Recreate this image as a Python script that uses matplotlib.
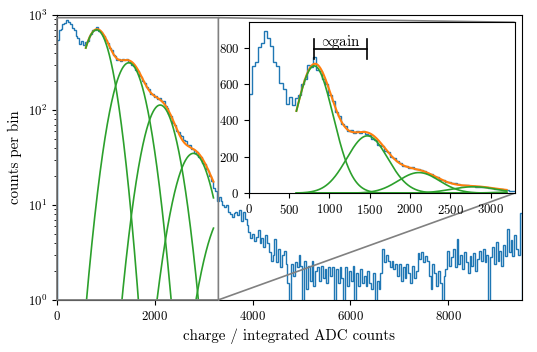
import numpy as np
import matplotlib
matplotlib.use("Agg")
import matplotlib.pyplot as plt

plt.rcParams['font.family'] = 'serif'
plt.rcParams['font.serif'] = ['cmr10']
plt.rcParams['mathtext.fontset'] = 'cm'
plt.rcParams['axes.formatter.use_mathtext'] = True
plt.rcParams['font.size'] = 9.2

# histogram, 38 ADC per bin
bin_width = 38
low_counts = [548, 702, 722, 805, 828, 893, 851, 812, 724, 701,
              604, 571, 493, 528, 487, 523, 538, 601, 628, 703,
              694, 748, 678, 672, 629, 603, 541, 508, 447, 426,
              378, 369, 339, 347, 328, 344, 333, 341, 324, 322,
              296, 294, 266, 261, 231, 224, 201, 193, 174, 166,
              149, 147, 137, 141, 131, 135, 125, 124, 111, 106,
              91, 86, 73, 70, 60, 59, 54, 53, 48, 47,
              43, 43, 39, 39, 35, 36, 32, 32, 28, 27,
              24, 23, 20, 18, 15, 14, 11]
tail_counts = [12, 11, 10, 9.5, 10, 8.5, 8, 7.5, 8.2, 8.5,
               7.8, 8.8, 6.8, 8.5, 7.2, 6.2, 5.2, 4.5, 5.0, 4.2,
               4.6, 5.4, 4.0, 4.5, 3.6, 4.8, 4.0, 3.2, 2.6, 3.0,
               4.4, 2.5, 3.4, 2.2, 3.0, 3.3, 2.4, 1.5, 0, 2.4,
               1.8, 2.5, 2.2, 3.0, 2.3, 0, 2.6, 1.3, 2.3, 1.6,
               2.6, 1.4, 2.0, 2.2, 1.6, 2.3, 1.7, 2.1, 1.5, 2.2,
               1.8, 2.2, 0, 2.1, 1.5, 2.2, 1.7, 0, 2.2, 1.4,
               2.0, 1.6, 2.3, 0, 1.9, 1.4, 2.1, 1.5, 1.8, 1.4,
               2.0, 1.5, 1.3, 1.9, 0, 1.6, 1.3, 1.9, 3.4, 2.5,
               3.0, 2.6, 2.2, 2.6, 2.1, 2.4, 1.8, 2.4, 1.6, 2.2,
               1.7, 2.4, 1.9, 1.5, 2.3, 1.7, 2.0, 3.1, 2.7, 3.2,
               2.5, 2.9, 2.6, 1.8, 1.3, 2.4, 1.9, 1.4, 2.0, 1.5,
               0, 1.8, 2.1, 3.3, 2.3, 2.8, 3.4, 2.2, 4.4, 2.4,
               3.0, 2.1, 3.2, 2.5, 1.9, 2.9, 2.3, 3.1, 2.0, 2.7,
               3.3, 2.6, 3.4, 2.5, 3.0, 0, 2.8, 3.6, 2.4, 4.1,
               2.6, 3.3, 2.3, 3.8, 2.9, 5.6, 3.2, 4.3, 2.9, 4.8,
               3.4, 3.0, 8.3]

# gaussian components of the fit
peak_pos = [811, 1470, 2110, 2790, 3460]
peak_amp = [700, 315, 113, 35, 8.3]
peak_sigma = [236, 255, 254, 279, 300]
fit_range = (590, 3200)

counts = np.array(low_counts + tail_counts)
edges = np.arange(len(counts) + 1) * bin_width

x_fit = np.linspace(fit_range[0], fit_range[1], 500)
comps = [a * np.exp(-(x_fit - c) ** 2 / (2 * s ** 2))
         for c, a, s in zip(peak_pos, peak_amp, peak_sigma)]
total = np.sum(comps, axis=0)

fig = plt.figure(figsize=(5.37, 3.52), dpi=100)
ax = fig.add_axes([0.106, 0.148, 0.8655, 0.809])

ax.hist(edges[:-1], bins=edges, weights=counts, histtype='step', color='C0', lw=1)
ax.plot(x_fit, total, color='C1', lw=1.5)
for g in comps:
    ax.plot(x_fit, g, color='C2', lw=1.2)

ax.set_yscale('log')
ax.set_xlim(0, 9500)
ax.set_ylim(1, 1000)
ax.set_xlabel('charge / integrated ADC counts', fontsize=10.8)
ax.set_ylabel('counts per bin', fontsize=10.8)

# inset, linear scale
axins = ax.inset_axes([0.413, 0.375, 0.572, 0.6])
axins.hist(edges[:-1], bins=edges, weights=counts, histtype='step', color='C0', lw=1)
axins.plot(x_fit, total, color='C1', lw=1.5)
for g in comps:
    axins.plot(x_fit, g, color='C2', lw=1.2)
axins.set_xlim(0, 3300)
axins.set_ylim(0, 940)
axins.set_xticks([0, 500, 1000, 1500, 2000, 2500, 3000])
axins.set_yticks([0, 200, 400, 600, 800])

# gain bracket between first two peaks
y_br = 795
axins.plot([peak_pos[0], peak_pos[1]], [y_br, y_br], color='k', lw=1.2)
axins.plot([peak_pos[0], peak_pos[0]], [y_br - 55, y_br + 55], color='k', lw=1.2)
axins.plot([peak_pos[1], peak_pos[1]], [y_br - 55, y_br + 55], color='k', lw=1.2)
axins.text((peak_pos[0] + peak_pos[1]) / 2, y_br + 12, r'$\!\!\propto\!\!$gain',
           ha='center', va='baseline', fontsize=10.8)

ind = ax.indicate_inset([0, 1, 3300, 939], inset_ax=axins,
                        edgecolor='0.5', alpha=1, lw=1.2)
for c, vis in zip(ind.connectors, [False, False, True, True]):
    c.set_visible(vis)

plt.savefig('out.png')
